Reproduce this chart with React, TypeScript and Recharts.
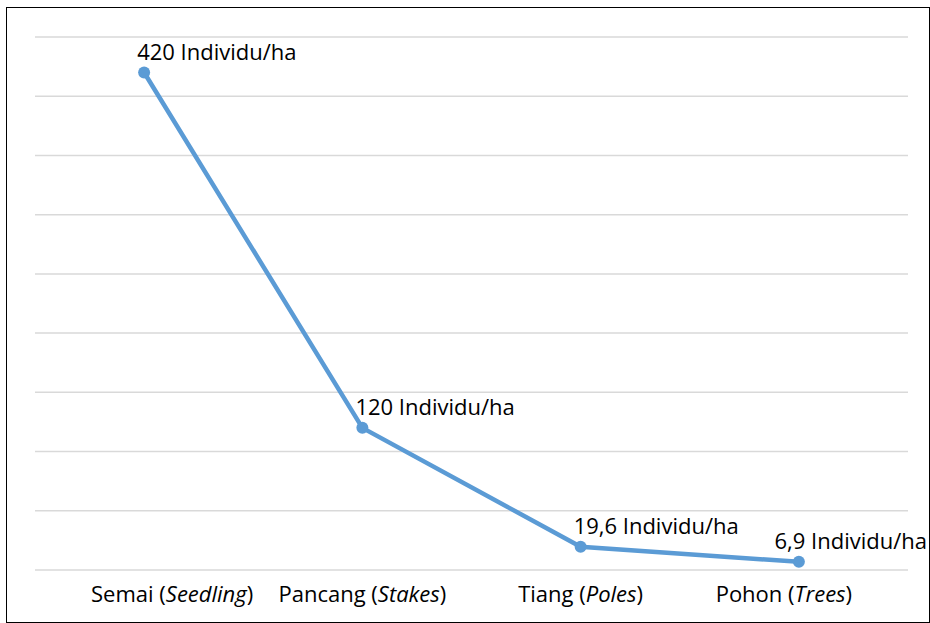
import { LineChart, Line, XAxis, YAxis, CartesianGrid, LabelList } from 'recharts';

const categories = ['Semai', 'Pancang', 'Tiang', 'Pohon'];
const englishNames = ['Seedling', 'Stakes', 'Poles', 'Trees'];
const density = [420, 120, 19.6, 6.9];
const yTicks = [0, 50, 100, 150, 200, 250, 300, 350, 400, 450];

const data = categories.map((name, i) => ({ name, en: englishNames[i], value: density[i] }));

const FONT = '"Open Sans", sans-serif';
const FONT_SIZE = 22;
const CHART_W = 922;
const CHART_H = 614;
const LINE_COLOR = '#5b9bd5';
// the category labels in the original sit a little off their points
const TICK_NUDGE = [28, 0, 0, -15];

let measureCtx: CanvasRenderingContext2D | null = null;
function textWidth(s: string) {
  if (!measureCtx) {
    measureCtx = document.createElement('canvas').getContext('2d');
  }
  if (!measureCtx) return s.length * FONT_SIZE * 0.5;
  measureCtx.font = `${FONT_SIZE}px ${FONT}`;
  return measureCtx.measureText(s).width;
}

const formatValue = (v: number) => `${String(v).replace('.', ',')} Individu/ha`;

function ValueLabel(props: any) {
  const { x, y, value } = props;
  const text = formatValue(Number(value));
  const w = textWidth(text);
  // keep the label inside the frame, like the last one in the original
  const tx = Math.min(x - 7, CHART_W - 2 - w);
  return (
    <text x={tx} y={y - 13} fontSize={FONT_SIZE} fontFamily={FONT} fill="#000">
      {text}
    </text>
  );
}

function CategoryTick(props: any) {
  const { x, y, payload, index } = props;
  return (
    <text
      x={x + (TICK_NUDGE[index] ?? 0)}
      y={y + 24}
      textAnchor="middle"
      fontSize={FONT_SIZE}
      fontFamily={FONT}
      fill="#000"
    >
      {`${payload.value} (`}
      <tspan fontStyle="italic">{englishNames[index]}</tspan>
      {')'}
    </text>
  );
}

export default function App() {
  return (
    <div
      style={{
        position: 'absolute',
        left: 6,
        top: 7,
        width: CHART_W,
        height: CHART_H,
        border: '1px solid #000',
        background: '#fff',
      }}
    >
      <LineChart width={CHART_W} height={CHART_H} data={data} margin={{ top: 29, right: 21, left: 28, bottom: 0 }}>
        <CartesianGrid vertical={false} stroke="#d9d9d9" strokeWidth={1.5} />
        <XAxis
          dataKey="name"
          scale="band"
          axisLine={false}
          tickLine={false}
          height={52}
          interval={0}
          tick={<CategoryTick />}
        />
        <YAxis hide domain={[0, 450]} ticks={yTicks} interval={0} />
        <Line
          dataKey="value"
          stroke={LINE_COLOR}
          strokeWidth={4.5}
          dot={{ r: 6, fill: LINE_COLOR, stroke: 'none' }}
          activeDot={false}
          isAnimationActive={false}
        >
          <LabelList dataKey="value" content={<ValueLabel />} />
        </Line>
      </LineChart>
    </div>
  );
}
